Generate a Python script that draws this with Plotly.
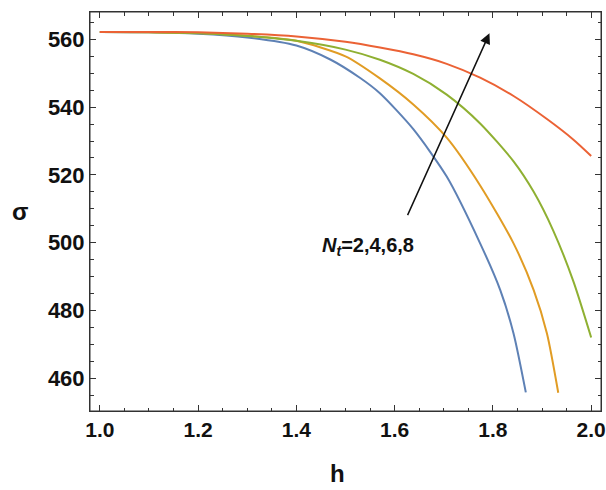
import plotly.graph_objects as go

# ---- data ----
h_nt2 = [1.0, 1.1, 1.2, 1.3, 1.4, 1.47, 1.53, 1.57, 1.638, 1.706, 1.774, 1.815, 1.842, 1.867]
s_nt2 = [562.2, 562.1, 561.7, 560.6, 558.2, 554.0, 548.6, 544.1, 533.5, 519.5, 499.8, 486.0, 473.2, 455.8]

h_nt4 = [1.0, 1.1, 1.2, 1.3, 1.4, 1.5, 1.57, 1.638, 1.706, 1.774, 1.842, 1.883, 1.91, 1.933]
s_nt4 = [562.2, 562.1, 561.9, 561.1, 559.6, 555.0, 548.5, 540.8, 531.0, 516.9, 499.8, 486.0, 473.2, 455.7]

h_nt6 = [1.0, 1.1, 1.2, 1.3, 1.4, 1.5, 1.57, 1.638, 1.706, 1.774, 1.842, 1.883, 1.923, 1.964, 2.0]
s_nt6 = [562.2, 562.1, 561.8, 561.0, 559.6, 557.0, 554.0, 549.8, 543.7, 535.2, 524.0, 515.0, 503.5, 488.5, 472.0]

h_nt8 = [1.0, 1.1, 1.2, 1.3, 1.4, 1.5, 1.57, 1.638, 1.706, 1.774, 1.842, 1.91, 1.964, 2.0]
s_nt8 = [562.2, 562.2, 562.1, 561.7, 560.9, 559.3, 557.6, 555.6, 552.8, 548.7, 543.3, 536.5, 530.4, 525.6]

x_ticks = [1.0, 1.2, 1.4, 1.6, 1.8, 2.0]
x_tick_labels = ["1.0", "1.2", "1.4", "1.6", "1.8", "2.0"]
y_ticks = [460, 480, 500, 520, 540, 560]
y_tick_labels = ["460", "480", "500", "520", "540", "560"]

series = [
    (h_nt2, s_nt2, "#5E81B5"),
    (h_nt4, s_nt4, "#E19C24"),
    (h_nt6, s_nt6, "#8FB032"),
    (h_nt8, s_nt8, "#EB6235"),
]

font_fam = "Liberation Sans, Arial, sans-serif"
frame_col = "#333333"

fig = go.Figure()
for hx, sy, col in series:
    fig.add_trace(go.Scatter(x=hx, y=sy, mode="lines",
                             line=dict(color=col, width=2, shape="spline", smoothing=0.7),
                             showlegend=False, hoverinfo="skip"))

tick_style = dict(showgrid=False, zeroline=False, ticks="inside", tickcolor=frame_col,
                  tickwidth=1, ticklen=6, showline=True, linecolor=frame_col, linewidth=1,
                  mirror="allticks", ticklabeloverflow="allow")

fig.update_layout(
    xaxis=dict(range=[0.98, 2.02], tickmode="array", tickvals=x_ticks,
               ticktext=["<b>%s</b>" % t for t in x_tick_labels],
               tickfont=dict(family=font_fam, size=21, color="#111111"),
               minor=dict(ticks="inside", ticklen=3.5, tickcolor=frame_col, tickwidth=1,
                          dtick=0.05, tick0=x_ticks[0]),
               **tick_style),
    yaxis=dict(range=[450.3, 568.1], tickmode="array", tickvals=y_ticks,
               ticktext=["<b>%s</b>" % t for t in y_tick_labels],
               tickfont=dict(family=font_fam, size=22, color="#111111"),
               minor=dict(ticks="inside", ticklen=3.5, tickcolor=frame_col, tickwidth=1,
                          dtick=5, tick0=y_ticks[0]),
               **tick_style),
)

# plot frame
fig.add_shape(type="rect", xref="paper", yref="paper", x0=0, y0=0, x1=1, y1=1,
              line=dict(color=frame_col, width=1), layer="above")

fig.add_annotation(x=1.793, y=561.8, ax=1.625, ay=507.7, xref="x", yref="y",
                   axref="x", ayref="y", showarrow=True, arrowhead=2, arrowsize=1.4,
                   arrowwidth=1.5, arrowcolor="#111111", text="")
fig.add_annotation(x=1.545, y=499.0, xref="x", yref="y", showarrow=False,
                   text="<b><i>N</i><sub><i>t</i></sub>=2,4,6,8</b>",
                   font=dict(family=font_fam, size=20, color="#111111"))

W, H = 606, 490
ml, mr, mt, mb = 90, 5, 12, 79
pw, ph = W - ml - mr, H - mt - mb
fig.add_annotation(x=(337 - ml) / pw, y=1 - (473 - mt) / ph, xref="paper", yref="paper",
                   xanchor="center", yanchor="middle", showarrow=False, text="<b>h</b>",
                   font=dict(family=font_fam, size=24, color="#111111"))
fig.add_annotation(x=(20 - ml) / pw, y=1 - (211 - mt) / ph, xref="paper", yref="paper",
                   xanchor="center", yanchor="middle", showarrow=False, text="<b>σ</b>",
                   font=dict(family=font_fam, size=24, color="#111111"))

fig.update_layout(width=W, height=H, plot_bgcolor="white", paper_bgcolor="white",
                  margin=dict(l=ml, r=mr, t=mt, b=mb, autoexpand=False))

fig.write_html("out.html", config={"displayModeBar": False},
               post_script="document.body.style.margin='0';")
